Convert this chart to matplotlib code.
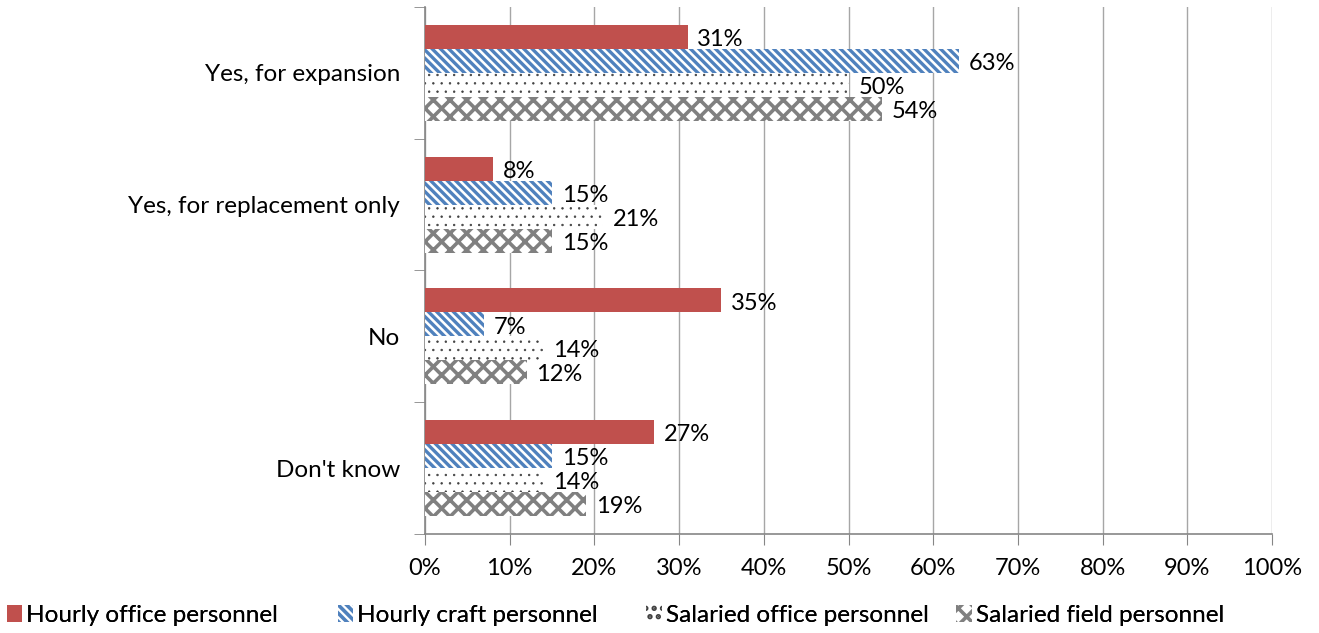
import matplotlib.pyplot as plt
import matplotlib.patches as mpatches
import numpy as np

plt.rcParams['font.family'] = ['Lato', 'DejaVu Sans']

# categories top to bottom
categories = ["Yes, for expansion", "Yes, for replacement only", "No", "Don't know"]
series = ["Hourly office personnel", "Hourly craft personnel",
          "Salaried office personnel", "Salaried field personnel"]
hourly_office = [31, 8, 35, 27]
hourly_craft = [63, 15, 7, 15]
salaried_office = [50, 21, 14, 14]
salaried_field = [54, 15, 12, 19]
values = [hourly_office, hourly_craft, salaried_office, salaried_field]

styles = [
    dict(color='#C0504D', hatch=None, hlw=1.0),
    dict(color='#4F81BD', hatch='\\\\\\\\', hlw=2.4),
    dict(color='#404040', hatch='..', hlw=0.5),
    dict(color='#808080', hatch='xx', hlw=2.6),
]

fig = plt.figure(figsize=(13.19, 6.33), dpi=100)
ax = fig.add_axes([0.3222, 0.1564, 0.6422, 0.8326])

y = np.arange(len(categories))[::-1]
h = 0.182
offsets = [1.5 * h, 0.5 * h, -0.5 * h, -1.5 * h]
handles = []
for vals, st, off, name in zip(values, styles, offsets, series):
    plt.rcParams['hatch.linewidth'] = st['hlw']
    if st['hatch'] is None:
        bars = ax.barh(y + off, vals, height=h, color=st['color'], linewidth=0, zorder=3)
        handles.append(mpatches.Patch(facecolor=st['color'], linewidth=0, label=name))
    else:
        bars = ax.barh(y + off, vals, height=h, facecolor='white', edgecolor=st['color'],
                       hatch=st['hatch'], linewidth=0, zorder=3)
        handles.append(mpatches.Patch(facecolor='white', edgecolor=st['color'],
                                      hatch=st['hatch'], linewidth=0, label=name))
    for b, v in zip(bars, vals):
        ax.annotate(f"{v}%", (v, b.get_y() + b.get_height() / 2 - 0.02),
                    xytext=(7, 0), textcoords='offset points',
                    va='center', ha='left', fontsize=17, zorder=4)

ax.set_xlim(0, 100)
ax.set_ylim(-0.5, 3.5)
ax.set_xticks(np.arange(0, 101, 10))
ax.set_xticklabels([f"{t}%" for t in range(0, 101, 10)], fontsize=17)
ax.set_yticks(y)
ax.set_yticklabels(categories, fontsize=17.5)
ax.set_yticks(np.arange(-0.5, 3.6, 1), minor=True)
ax.tick_params(axis='y', which='major', length=0, pad=18)
ax.tick_params(axis='y', which='minor', length=8, color='#868686', direction='out')
ax.tick_params(axis='x', length=8, color='#868686', direction='out', pad=9)
ax.grid(axis='x', color='#A6A6A6', linewidth=1, zorder=0)
for s in ['top', 'right']:
    ax.spines[s].set_visible(False)
for s in ['left', 'bottom']:
    ax.spines[s].set_color('#868686')
    ax.spines[s].set_linewidth(1.2)

legend_x = [0.005, 0.256, 0.49, 0.725]
for hd, lx in zip(handles, legend_x):
    leg = fig.legend(handles=[hd], loc='center left', bbox_to_anchor=(lx, 0.028),
                     frameon=False, fontsize=17.5, handlelength=0.65, handleheight=0.7,
                     handletextpad=0.15, borderaxespad=0, borderpad=0)
    fig.add_artist(leg)

fig.savefig('out.png', dpi=100)
